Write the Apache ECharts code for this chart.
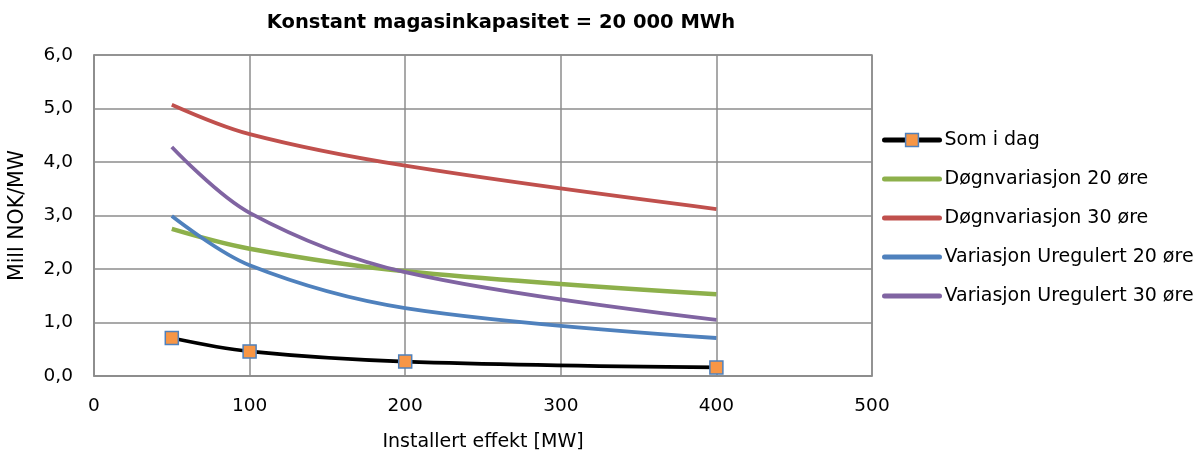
<!DOCTYPE html>
<html>
<head>
<meta charset="utf-8">
<script src="https://cdn.jsdelivr.net/npm/echarts@6/dist/echarts.min.js"></script>
<style>
  html, body { margin: 0; padding: 0; background: #fff; }
  #chart { width: 1195px; height: 454px; }
</style>
</head>
<body>
<div id="chart"></div>
<script>
// Installed capacity (MW) and value per MW for each scenario
const effekt = [50, 100, 200, 400];
const somIDag = [0.71, 0.46, 0.27, 0.16];
const dogn20 = [2.75, 2.38, 1.96, 1.53];
const dogn30 = [5.07, 4.52, 3.93, 3.12];
const ureg20 = [2.99, 2.07, 1.27, 0.71];
const ureg30 = [4.28, 3.05, 1.94, 1.05];

const seriesNames = [
  'Som i dag',
  'Døgnvariasjon 20 øre',
  'Døgnvariasjon 30 øre',
  'Variasjon Uregulert 20 øre',
  'Variasjon Uregulert 30 øre'
];
const seriesValues = [somIDag, dogn20, dogn30, ureg20, ureg30];
const seriesColors = ['#000000', '#8DB04B', '#C0504D', '#4F81BD', '#8064A2'];

const font = '"DejaVu Sans", sans-serif';
const chart = echarts.init(document.getElementById('chart'));

const series = seriesNames.map((name, i) => {
  const withMarker = i === 0;
  return {
    name: name,
    type: 'line',
    smooth: 0.35,
    data: effekt.map((x, k) => [x, seriesValues[i][k]]),
    symbol: withMarker ? 'rect' : 'none',
    showSymbol: withMarker,
    symbolSize: 13,
    itemStyle: withMarker
      ? { color: '#F79646', borderColor: '#4F81BD', borderWidth: 1.5 }
      : { color: seriesColors[i] },
    lineStyle: { color: seriesColors[i], width: i === 1 ? 4.5 : 3.8 },
    z: withMarker ? 5 : 2,
    animation: false
  };
});

// Legend entries: thick line icons; only the first one keeps its marker
const legendData = seriesNames.map((name, i) => ({
  name: name,
  lineStyle: { width: 5, cap: 'round' },
  itemStyle: i === 0
    ? { color: '#F79646', borderColor: '#4F81BD', borderWidth: 1.5 }
    : { opacity: 0 }
}));

chart.setOption({
  animation: false,
  title: {
    text: 'Konstant magasinkapasitet = 20 000 MWh',
    left: 496,
    textAlign: 'center',
    top: 8,
    textStyle: { fontFamily: font, fontSize: 19.5, fontWeight: 'bold', color: '#000' }
  },
  grid: {
    left: 94, right: 323, top: 55, bottom: 78,
    containLabel: false,
    outerBoundsMode: 'none',
    show: true, borderColor: '#8C8C8C', borderWidth: 1.5
  },
  legend: {
    orient: 'vertical',
    left: 877,
    top: 124,
    itemWidth: 55,
    itemHeight: 16,
    itemGap: 17,
    textStyle: { fontFamily: font, fontSize: 19, lineHeight: 22, color: '#000' },
    data: legendData
  },
  xAxis: {
    type: 'value',
    min: 0, max: 500, interval: 100,
    name: 'Installert effekt [MW]',
    nameLocation: 'middle',
    nameGap: 57,
    nameTextStyle: { fontFamily: font, fontSize: 19, color: '#000' },
    axisLine: { lineStyle: { color: '#8C8C8C', width: 1.5 } },
    axisTick: { show: false },
    axisLabel: { fontFamily: font, fontSize: 18.5, color: '#000', margin: 21 },
    splitLine: { lineStyle: { color: '#8C8C8C', width: 1.5 } }
  },
  yAxis: {
    type: 'value',
    min: 0, max: 6, interval: 1,
    name: 'Mill NOK/MW',
    nameLocation: 'middle',
    nameGap: 66,
    nameTextStyle: { fontFamily: font, fontSize: 20.5, color: '#000' },
    axisLine: { show: true, lineStyle: { color: '#8C8C8C', width: 1.5 } },
    axisTick: { show: false },
    axisLabel: {
      fontFamily: font, fontSize: 18.5, color: '#000', margin: 21,
      formatter: v => v.toFixed(1).replace('.', ',')
    },
    splitLine: { lineStyle: { color: '#8C8C8C', width: 1.5 } }
  },
  series: series
});
</script>
</body>
</html>
